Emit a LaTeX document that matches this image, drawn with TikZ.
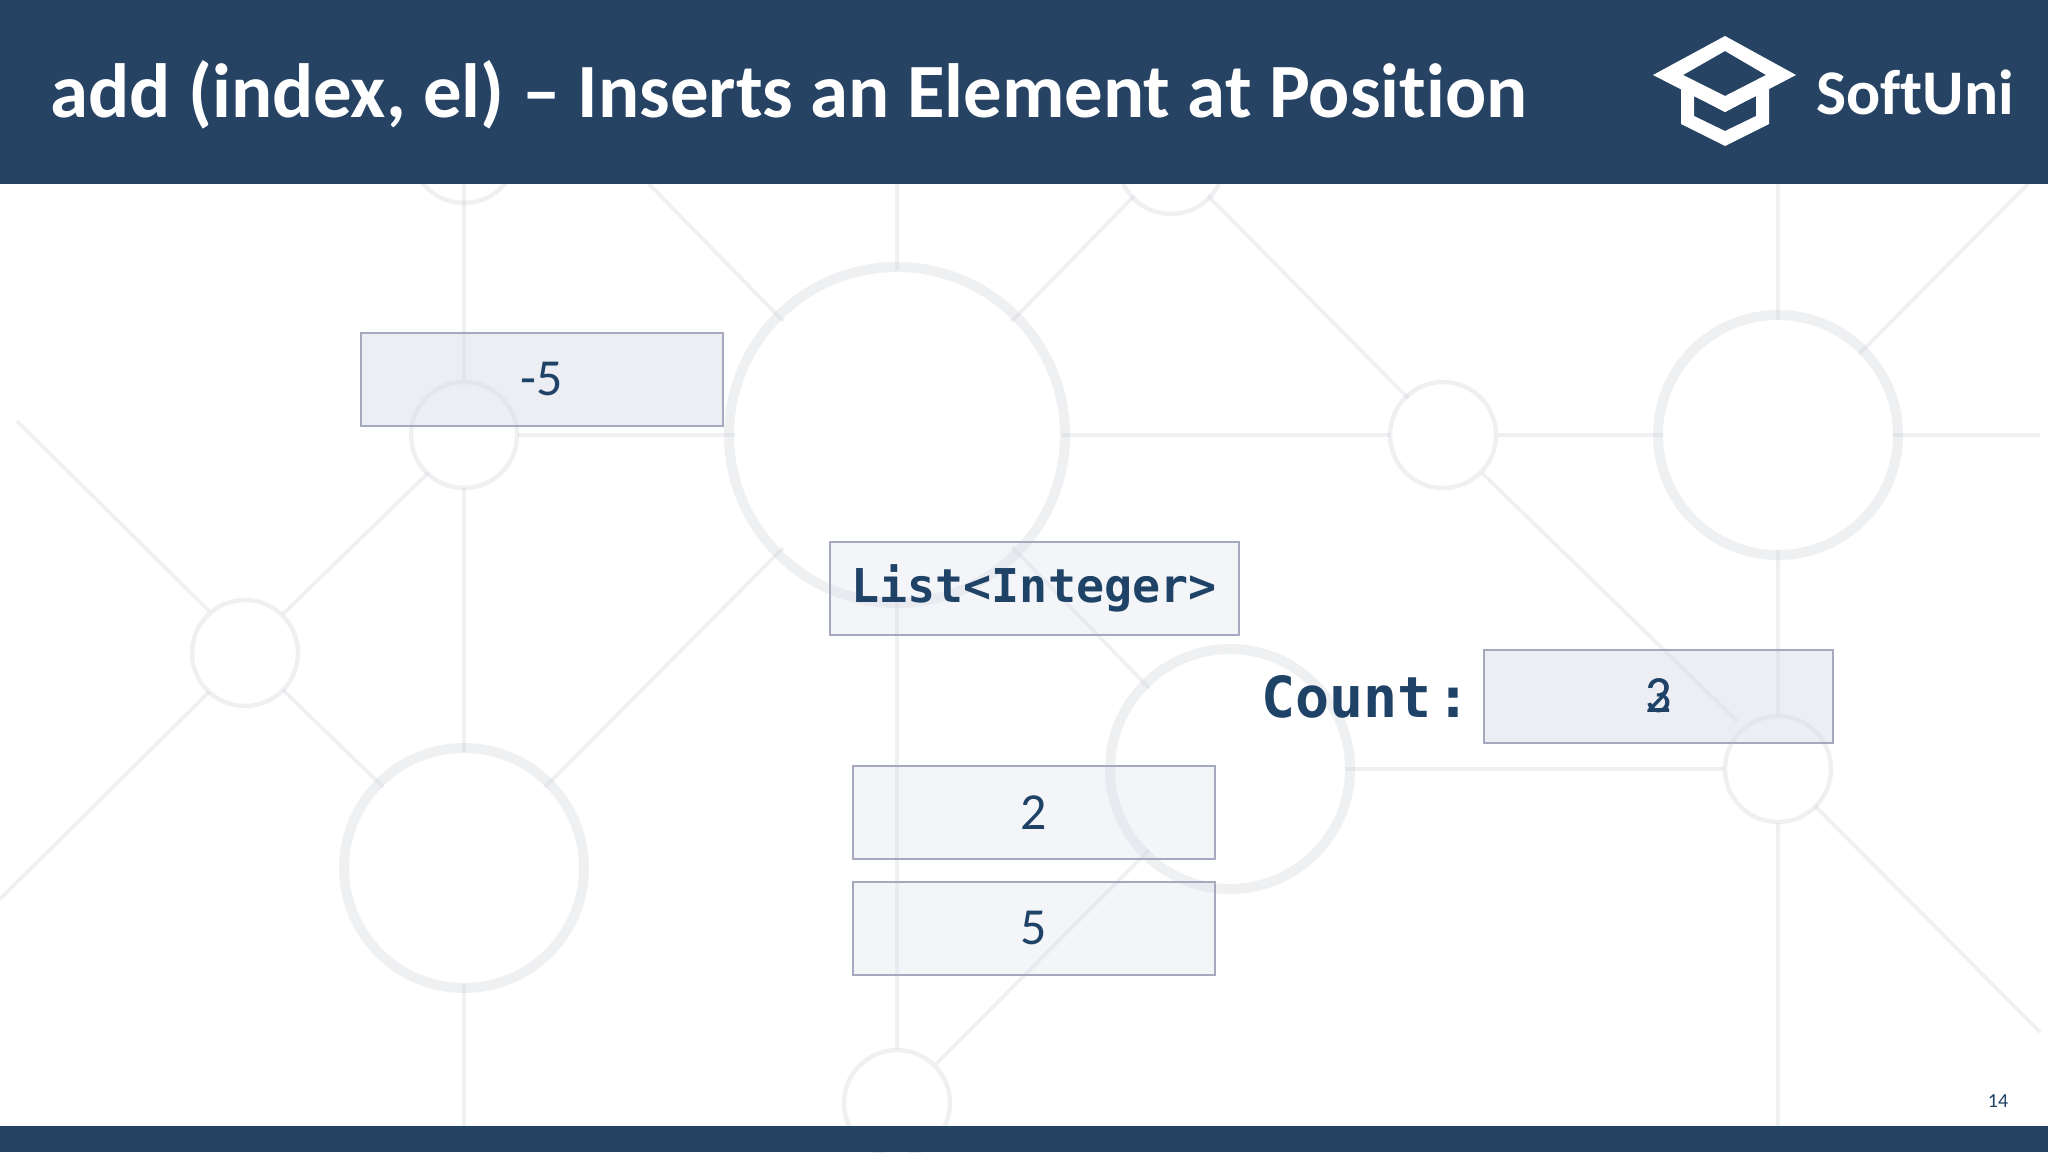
\documentclass[tikz,border=0pt]{standalone}
\usepackage{fontspec}
\setmainfont[Ligatures=NoCommon]{Carlito}
\newfontfamily\codefont{DejaVu Sans Mono}
\definecolor{navy}{HTML}{264364}
\definecolor{ink}{HTML}{1F4267}
\definecolor{netline}{HTML}{C6C8D2}
\definecolor{boxedge}{HTML}{A6A8BE}
\definecolor{boxfill}{HTML}{D9DBE8}
\tikzset{
  thinnet/.style={draw=netline,draw opacity=0.27,line width=1.8pt},
  bigring/.style={draw=netline,draw opacity=0.27,line width=5pt},
  smallring/.style={draw=netline,draw opacity=0.27,line width=2.2pt},
  valbox/.style={draw=boxedge,line width=1pt,fill=boxfill,fill opacity=0.27,text opacity=1,
    text=ink,minimum width=181pt,minimum height=46.5pt,inner sep=0pt,font=\fontsize{26}{30}\selectfont},
  darkbox/.style={valbox,fill opacity=0.45},
  digit/.style={text=ink,inner sep=0pt,font=\fontsize{26}{30}\selectfont}
}
\begin{document}
\begin{tikzpicture}[x=0.5pt,y=-0.5pt]
\useasboundingbox (0,0) rectangle (2048,1152);
\fill[white] (0,0) rectangle (2048,1152);
% background network
\foreach \x/\y in {464/868,1230/769,1778/435}
  \draw[bigring] (\x,\y) circle (120);
\draw[bigring] (897,435) circle (168);
\foreach \x/\y in {464/435,245/653,1443/435,1778/769,897/1103,464/150,1171/161}
  \draw[smallring] (\x,\y) circle (53);
\foreach \a/\b/\c/\d in {
  464/184/464/381, 464/488/464/752, 464/985/464/1126,
  897/184/897/270, 897/600/897/1049,
  1778/184/1778/320, 1778/550/1778/716, 1778/823/1778/1126,
  518/435/735/435, 1062/435/1390/435, 1498/435/1663/435, 1893/435/2040/435,
  1345/769/1724/769,
  17/421/209/611, 283/614/428/473, 209/692/0/899, 283/690/383/787,
  545/787/783/548, 649/184/783/321, 1012/321/1134/196, 1208/196/1408/398,
  1482/473/1737/721, 1859/354/2028/184, 1815/806/2040/1032,
  1149/850/936/1064, 1012/547/1149/688}
  \draw[thinnet] (\a,\b) -- (\c,\d);
% bars
\fill[navy] (0,0) rectangle (2048,184);
\fill[navy] (0,1126) rectangle (2048,1152);
\node[anchor=base west,text=white,inner sep=0pt,font=\fontsize{38.4}{44}\bfseries\selectfont] (title) at (50,117)
  {add (index, el) – Inserts an Element at Position};
% logo
\fill[white,even odd rule]
  (1725,36) -- (1796,75) -- (1725,112) -- (1653,75) -- cycle
  (1725,51) -- (1766,75) -- (1725,96) -- (1683,75) -- cycle;
\fill[white,even odd rule]
  (1681,88) -- (1725,112) -- (1769,88) -- (1769,124) -- (1725,146) -- (1681,124) -- cycle
  (1694,96) -- (1725,111) -- (1756,96) -- (1756,116) -- (1725,131) -- (1694,116) -- cycle;
\node[anchor=base west,text=white,inner sep=0pt,font=\fontsize{31.8}{38}\bfseries\selectfont] (brand) at (1816,114) {SoftUni};
% boxes
\node[darkbox] (minusfive) at (541.5,379) {-5};
\node[valbox,minimum width=204.5pt] (listbox) at (1034,588.5) {\codefont\bfseries\fontsize{23.3}{28}\selectfont List<Integer>};
\node[darkbox,minimum width=174.5pt] (countbox) at (1658.5,696) {};
\node[digit] (countold) at (countbox.center) {3};
\node[digit] (countnew) at (countbox.center) {2};
\node[text=ink,anchor=base west,inner sep=0pt,font=\codefont\bfseries\fontsize{28.3}{34}\selectfont] (countlabel) at (1261,717) {Count\kern2.5pt:};
\node[valbox] (two) at (1034,812.5) {2};
\node[valbox] (five) at (1034,928) {5};
\node[text=ink,inner sep=0pt,font=\fontsize{10}{12}\selectfont] (pagenum) at (1998,1101) {14};
\end{tikzpicture}
\end{document}
